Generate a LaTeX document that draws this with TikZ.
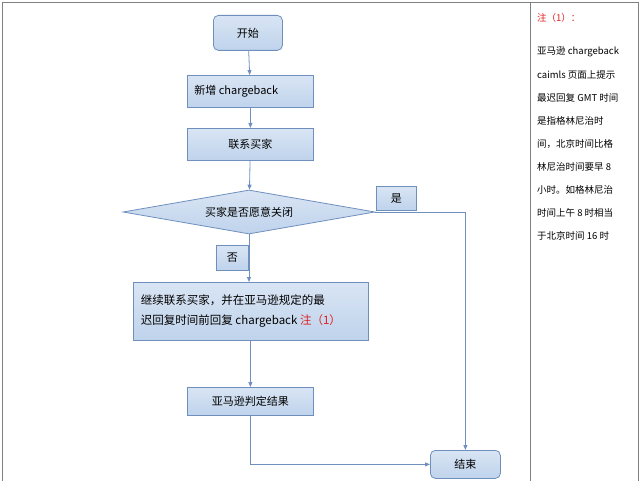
\documentclass[tikz,border=0pt]{standalone}
\usepackage{fontspec}
\setmainfont{Noto Sans CJK SC}
\usetikzlibrary{arrows.meta,shapes.geometric}
\definecolor{bfill}{HTML}{BFD3EC}
\definecolor{bline}{HTML}{6F8FBF}
\definecolor{nred}{HTML}{E02020}
\tikzset{
 box/.style={draw=bline,line width=0.8pt,top color=bfill!60,bottom color=bfill,anchor=north west,inner sep=0pt,font=\fontsize{11}{13}\selectfont},
 rbox/.style={box,rounded corners=5pt},
 conn/.style={draw=bline,line width=0.8pt,-{Triangle[length=5pt,width=4pt]}},
 note/.style={anchor=west,font=\fontsize{9.5}{11}\selectfont,inner sep=0pt}}
\begin{document}
\begin{tikzpicture}[x=1pt,y=-1pt]
\useasboundingbox (0,0) rectangle (640,481);
\draw[gray,line width=0.6pt] (2,2) -- (638,2) (2,2) -- (2,481) (530,2) -- (530,481) (638,2) -- (638,481);
\node[rbox,minimum width=69pt,minimum height=35pt] (s) at (213,15) {开始};
\node[box,minimum width=126pt,minimum height=32pt] (a) at (187,75) {\makebox[112pt][l]{新增 chargeback}};
\node[box,minimum width=126pt,minimum height=32pt] (b) at (187,128) {联系买家};
\node[diamond,draw=bline,line width=0.8pt,top color=bfill!60,bottom color=bfill,minimum width=252pt,minimum height=44pt,inner sep=0pt,aspect=5.7,font=\fontsize{11}{13}\selectfont] (d) at (249,212) {买家是否愿意关闭};
\node[box,minimum width=40pt,minimum height=24pt] (y) at (376,186) {是};
\node[box,minimum width=32pt,minimum height=25pt] (n) at (216,245) {否};
\node[box,minimum width=235pt,minimum height=58pt,font=\fontsize{11.5}{20}\selectfont] (c) at (133,282) {\parbox{220pt}{继续联系买家，并在亚马逊规定的最\\迟回复时间前回复 chargeback \textcolor{nred}{注（1）}}};
\node[box,minimum width=126pt,minimum height=28pt] (j) at (187,387) {亚马逊判定结果};
\node[rbox,minimum width=70pt,minimum height=28pt] (e) at (430,450) {结束};
\draw[conn] (s) -- (a);
\draw[conn] (a) -- (b);
\draw[conn] (b) -- (d);
\draw[conn] (d.south) -- (c.north -| d.south);
\draw[conn] (c.south -| j.north) -- (j);
\draw[conn] (j.south) |- (e.west);
\draw[conn] (d.east) -| (e.north);
\node[note,text=nred] (t0) at (537,18) {注（1）：};
\node[note] (t1) at (537,52) {亚马逊 chargeback};
\node[note] (t2) at (537,75) {caimls 页面上提示};
\node[note] (t3) at (537,98) {最迟回复 GMT 时间};
\node[note] (t4) at (537,121) {是指格林尼治时};
\node[note] (t5) at (537,144) {间，北京时间比格};
\node[note] (t6) at (537,167) {林尼治时间要早 8};
\node[note] (t7) at (537,190) {小时。如格林尼治};
\node[note] (t8) at (537,213) {时间上午 8 时相当};
\node[note] (t9) at (537,236) {于北京时间 16 时};
\end{tikzpicture}
\end{document}
